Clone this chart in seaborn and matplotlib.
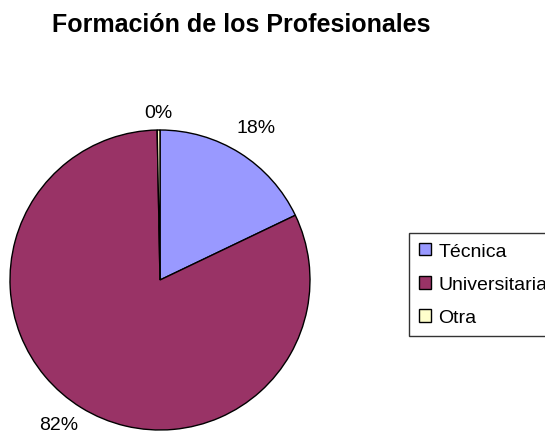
import matplotlib
matplotlib.use("Agg")
import matplotlib.pyplot as plt
import numpy as np
import seaborn as sns
from matplotlib.patches import Patch

sns.set_style("white")
plt.rcParams['font.family'] = ['Liberation Sans', 'DejaVu Sans']
plt.rcParams['text.color'] = 'black'

# data
categories = ["Técnica", "Universitaria", "Otra"]
shares = [17.9, 81.8, 0.3]
colors = ["#9999FF", "#993366", "#FFFFCC"]
title = "Formación de los Profesionales"

fig = plt.figure(figsize=(5.45, 4.39), dpi=100)
ax = fig.add_axes([10 / 545, 8 / 439, 300 / 545, 300 / 439])

wedges, texts, autotexts = ax.pie(
    shares,
    colors=colors,
    startangle=90,
    counterclock=False,
    autopct=lambda p: f"{p:.0f}%",
    pctdistance=1.2,
    radius=1.0,
    wedgeprops=dict(edgecolor="black", linewidth=1.0),
    textprops=dict(fontsize=14, color="black"),
)
ax.set_xlim(-1, 1)
ax.set_ylim(-1, 1)
ax.set_aspect("equal")

# Excel-like label spots: tiny slice closer to the rim, big one swung a bit left
x, y = autotexts[2].get_position()
autotexts[2].set_position((x * 1.12 / 1.2, y * 1.12 / 1.2))
a = np.radians(-125)
autotexts[1].set_position((1.18 * np.cos(a), 1.18 * np.sin(a)))
for t in autotexts:
    t.set_clip_on(False)

fig.text(241 / 545, 1 - 32 / 439, title, ha="center", va="baseline",
         fontsize=18, fontweight="bold", color="black")

handles = [Patch(facecolor=c, edgecolor="black", linewidth=1.0) for c in colors]
leg = fig.legend(
    handles, categories,
    loc="upper left",
    bbox_to_anchor=(409 / 545, 1 - 234 / 439),
    frameon=True, fancybox=False, fontsize=14,
    handlelength=0.62, handleheight=0.62, handletextpad=0.4,
    labelspacing=0.83, borderpad=0.5, borderaxespad=0,
)
leg.get_frame().set_edgecolor("black")
leg.get_frame().set_linewidth(1.0)

fig.savefig("out.png", dpi=100)
